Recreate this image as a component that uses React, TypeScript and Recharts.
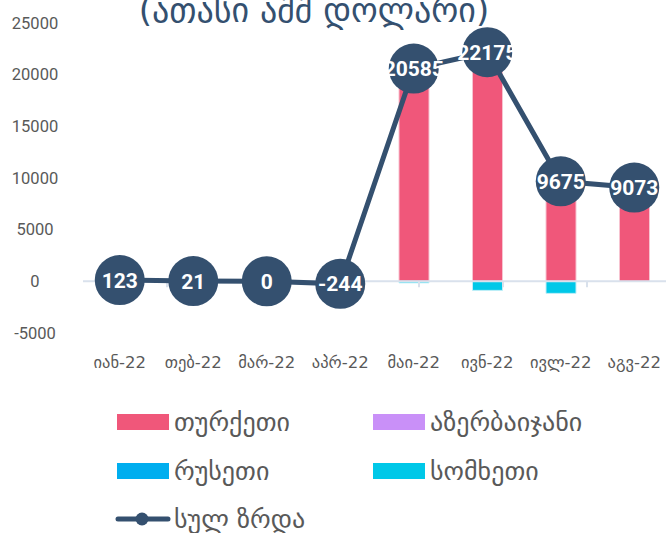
import React from 'react';
import { ComposedChart, Bar, Line, XAxis, YAxis, LabelList, ReferenceLine } from 'recharts';

const months = ['იან-22', 'თებ-22', 'მარ-22', 'აპრ-22', 'მაი-22', 'ივნ-22', 'ივლ-22', 'აგვ-22'];
const turkey = [120, 20, 0, 0, 20735, 23050, 10840, 9073];
const azerbaijan = [0, 0, 0, 0, 0, 0, 0, 0];
const russia = [3, 1, 0, -244, 0, -5, -5, 0];
const armenia = [0, 0, 0, 0, -150, -870, -1160, 0];
const total = [123, 21, 0, -244, 20585, 22175, 9675, 9073];
const yTicks = [-5000, 0, 5000, 10000, 15000, 20000, 25000];

const NAVY = '#34506f';
const PINK = '#f0577a';
const VIOLET = '#c990f8';
const BLUE = '#00aeef';
const CYAN = '#00c8e8';
const AXIS = '#d9e1ec';
const GEO = '"DejaVu Sans", sans-serif';

const data = months.map((m, i) => ({
    month: m,
    turkey: turkey[i],
    azerbaijan: azerbaijan[i],
    russia: russia[i],
    armenia: armenia[i],
    total: total[i],
}));

const YTick = ({ y, payload }: any) => (
    <text x={35} y={y} dy="0.35em" textAnchor="middle" fontSize={16.5} fill="#595959" fontFamily="Roboto, sans-serif">
        {payload.value}
    </text>
);

const XTick = ({ x, y, payload }: any) => (
    <text x={x} y={y + 29} dy="0.35em" textAnchor="middle" fontSize={16.5} fill="#595959" fontFamily={GEO}>
        {payload.value}
    </text>
);

const legendRows = [
    [{ name: 'თურქეთი', color: PINK }, { name: 'აზერბაიჯანი', color: VIOLET }],
    [{ name: 'რუსეთი', color: BLUE }, { name: 'სომხეთი', color: CYAN }],
];

export default function App() {
    return (
        <div style={{ position: 'absolute', top: 0, left: 0, width: 666, height: 533, overflow: 'hidden', background: '#fff' }}>
            <div style={{ position: 'absolute', top: -7, left: 0, width: 628, textAlign: 'center', fontFamily: GEO, fontSize: 34, lineHeight: '34px', color: NAVY, whiteSpace: 'nowrap' }}>
                (ათასი აშშ დოლარი)
            </div>
            <ComposedChart width={671} height={533} data={data} stackOffset="sign" margin={{ top: 23, right: 0, bottom: 160, left: 0 }}>
                <XAxis dataKey="month" axisLine={false} tickLine={false} tickSize={0} tickMargin={0} height={40} tick={<XTick />} interval={0} />
                <XAxis xAxisId="n" type="number" domain={[0, 8]} hide />
                <YAxis domain={[-5000, 25000]} ticks={yTicks} axisLine={false} tickLine={false} width={83} tick={<YTick />} />
                <ReferenceLine y={0} stroke={AXIS} strokeWidth={2} />
                {months.map((_, i) => (
                    <ReferenceLine key={`b-${i}`} xAxisId="n" stroke={AXIS} strokeWidth={2} segment={[{ x: i + 1, y: 0 }, { x: i + 1, y: -580 }]} />
                ))}
                <Bar dataKey="turkey" stackId="a" fill={PINK} stroke="#f7c3d0" strokeWidth={1} barSize={30} isAnimationActive={false} />
                <Bar dataKey="azerbaijan" stackId="a" fill={VIOLET} barSize={30} isAnimationActive={false} />
                <Bar dataKey="russia" stackId="a" fill={BLUE} barSize={30} isAnimationActive={false} />
                <Bar dataKey="armenia" stackId="a" fill={CYAN} stroke="#bfeef8" strokeWidth={1} barSize={30} isAnimationActive={false} />
                <Line dataKey="total" stroke={NAVY} strokeWidth={5} dot={{ r: 25, fill: NAVY, stroke: NAVY, strokeWidth: 0 }} isAnimationActive={false}>
                    <LabelList dataKey="total" position="center" fill="#fff" fontSize={21} fontWeight={700} fontFamily="Roboto, sans-serif" />
                </Line>
            </ComposedChart>
            {legendRows.map((row, r) =>
                row.map((item, c) => (
                    <div key={item.name} style={{ position: 'absolute', left: c === 0 ? 117 : 373, top: 406 + r * 49, height: 32, display: 'flex', alignItems: 'center' }}>
                        <div style={{ width: 52, height: 16, background: item.color }} />
                        <span style={{ marginLeft: 5, fontFamily: GEO, fontSize: 26, lineHeight: '32px', color: '#595959', whiteSpace: 'nowrap' }}>{item.name}</span>
                    </div>
                ))
            )}
            <div style={{ position: 'absolute', left: 115, top: 503, height: 32, display: 'flex', alignItems: 'center' }}>
                <svg width={56} height={16}>
                    <line x1={3} y1={8} x2={53} y2={8} stroke={NAVY} strokeWidth={5} strokeLinecap="round" />
                    <circle cx={27} cy={8} r={6.5} fill={NAVY} />
                </svg>
                <span style={{ marginLeft: 3, fontFamily: GEO, fontSize: 26, lineHeight: '32px', color: '#595959', whiteSpace: 'nowrap' }}>სულ ზრდა</span>
            </div>
        </div>
    );
}
